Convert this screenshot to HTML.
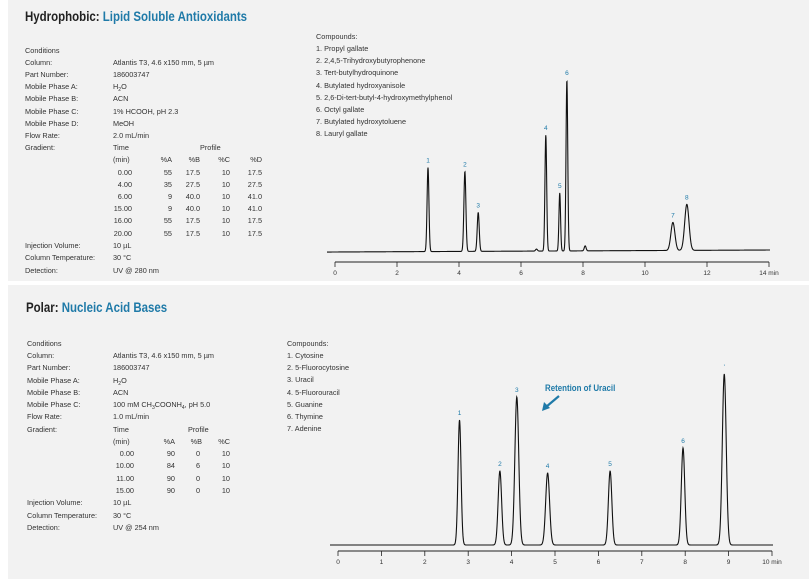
<!DOCTYPE html>
<html><head><meta charset="utf-8"><style>
html,body{margin:0;padding:0;background:#fff;}
svg{display:block;}
text{font-family:"Liberation Sans",sans-serif;}
</style></head><body>
<svg id="s" width="809" height="579" viewBox="0 0 809 579" xmlns="http://www.w3.org/2000/svg">
<rect x="0" y="0" width="809" height="579" fill="#fff"/>
<rect x="8" y="0" width="801" height="281" fill="#f2f2f2"/>
<rect x="8" y="285" width="801" height="294" fill="#f2f2f2"/>

<text x="25" y="21" font-size="14" font-weight="bold" transform="translate(25 0) scale(0.82 1) translate(-25 0)"><tspan fill="#222">Hydrophobic: </tspan><tspan fill="#1f7aa8">Lipid Soluble Antioxidants</tspan></text>

<g font-size="7.3" fill="#333">
<text x="25" y="53">Conditions</text>
<text x="25" y="65">Column:</text><text x="113" y="65">Atlantis T3, 4.6 x150 mm, 5 µm</text>
<text x="25" y="77">Part Number:</text><text x="113" y="77">186003747</text>
<text x="25" y="89">Mobile Phase A:</text><text x="113" y="89">H<tspan font-size="5" dy="2">2</tspan><tspan dy="-2">O</tspan></text>
<text x="25" y="101">Mobile Phase B:</text><text x="113" y="101">ACN</text>
<text x="25" y="114">Mobile Phase C:</text><text x="113" y="114">1% HCOOH, pH 2.3</text>
<text x="25" y="126">Mobile Phase D:</text><text x="113" y="126">MeOH</text>
<text x="25" y="138">Flow Rate:</text><text x="113" y="138">2.0 mL/min</text>
<text x="25" y="150">Gradient:</text><text x="113" y="150">Time</text><text x="200" y="150">Profile</text>
<text x="113" y="162">(min)</text>
<g text-anchor="end">
<text x="172" y="162">%A</text><text x="200" y="162">%B</text><text x="230" y="162">%C</text><text x="262" y="162">%D</text>
<text x="132" y="175">0.00</text><text x="172" y="175">55</text><text x="200" y="175">17.5</text><text x="230" y="175">10</text><text x="262" y="175">17.5</text>
<text x="132" y="187">4.00</text><text x="172" y="187">35</text><text x="200" y="187">27.5</text><text x="230" y="187">10</text><text x="262" y="187">27.5</text>
<text x="132" y="199">6.00</text><text x="172" y="199">9</text><text x="200" y="199">40.0</text><text x="230" y="199">10</text><text x="262" y="199">41.0</text>
<text x="132" y="211">15.00</text><text x="172" y="211">9</text><text x="200" y="211">40.0</text><text x="230" y="211">10</text><text x="262" y="211">41.0</text>
<text x="132" y="223">16.00</text><text x="172" y="223">55</text><text x="200" y="223">17.5</text><text x="230" y="223">10</text><text x="262" y="223">17.5</text>
<text x="132" y="236">20.00</text><text x="172" y="236">55</text><text x="200" y="236">17.5</text><text x="230" y="236">10</text><text x="262" y="236">17.5</text>
</g>
<text x="25" y="248">Injection Volume:</text><text x="113" y="248">10 µL</text>
<text x="25" y="260">Column Temperature:</text><text x="113" y="260">30 °C</text>
<text x="25" y="273">Detection:</text><text x="113" y="273">UV @ 280 nm</text>

<text x="316" y="39">Compounds:</text>
<text x="316" y="51">1. Propyl gallate</text>
<text x="316" y="63">2. 2,4,5-Trihydroxybutyrophenone</text>
<text x="316" y="75">3. Tert-butylhydroquinone</text>
<text x="316" y="88">4. Butylated hydroxyanisole</text>
<text x="316" y="100">5. 2,6-Di-tert-butyl-4-hydroxymethylphenol</text>
<text x="316" y="112">6. Octyl gallate</text>
<text x="316" y="124">7. Butylated hydroxytoluene</text>
<text x="316" y="136">8. Lauryl gallate</text>
</g>

<text x="26" y="312" font-size="14" font-weight="bold" transform="translate(26 0) scale(0.82 1) translate(-26 0)"><tspan fill="#222">Polar: </tspan><tspan fill="#1f7aa8">Nucleic Acid Bases</tspan></text>

<g font-size="7.3" fill="#333">
<text x="27" y="346">Conditions</text>
<text x="27" y="358">Column:</text><text x="113" y="358">Atlantis T3, 4.6 x150 mm, 5 µm</text>
<text x="27" y="370">Part Number:</text><text x="113" y="370">186003747</text>
<text x="27" y="383">Mobile Phase A:</text><text x="113" y="383">H<tspan font-size="5" dy="2">2</tspan><tspan dy="-2">O</tspan></text>
<text x="27" y="395">Mobile Phase B:</text><text x="113" y="395">ACN</text>
<text x="27" y="407">Mobile Phase C:</text><text x="113" y="407">100 mM CH<tspan font-size="5" dy="2">3</tspan><tspan dy="-2">COONH</tspan><tspan font-size="5" dy="2">4</tspan><tspan dy="-2">, pH 5.0</tspan></text>
<text x="27" y="419">Flow Rate:</text><text x="113" y="419">1.0 mL/min</text>
<text x="27" y="432">Gradient:</text><text x="113" y="432">Time</text><text x="188" y="432">Profile</text>
<text x="113" y="444">(min)</text>
<g text-anchor="end">
<text x="175" y="444">%A</text><text x="202" y="444">%B</text><text x="230" y="444">%C</text>
<text x="134" y="456">0.00</text><text x="175" y="456">90</text><text x="200" y="456">0</text><text x="230" y="456">10</text>
<text x="134" y="468">10.00</text><text x="175" y="468">84</text><text x="200" y="468">6</text><text x="230" y="468">10</text>
<text x="134" y="481">11.00</text><text x="175" y="481">90</text><text x="200" y="481">0</text><text x="230" y="481">10</text>
<text x="134" y="493">15.00</text><text x="175" y="493">90</text><text x="200" y="493">0</text><text x="230" y="493">10</text>
</g>
<text x="27" y="505">Injection Volume:</text><text x="113" y="505">10 µL</text>
<text x="27" y="518">Column Temperature:</text><text x="113" y="518">30 °C</text>
<text x="27" y="530">Detection:</text><text x="113" y="530">UV @ 254 nm</text>

<text x="287" y="346">Compounds:</text>
<text x="287" y="358">1. Cytosine</text>
<text x="287" y="370">2. 5-Fluorocytosine</text>
<text x="287" y="382">3. Uracil</text>
<text x="287" y="395">4. 5-Fluorouracil</text>
<text x="287" y="407">5. Guanine</text>
<text x="287" y="419">6. Thymine</text>
<text x="287" y="431">7. Adenine</text>
</g>

<text x="545" y="391" font-size="9" font-weight="bold" fill="#1f7aa8" transform="translate(545 0) scale(0.88 1) translate(-545 0)">Retention of Uracil</text>
<line x1="559" y1="396" x2="546" y2="407" stroke="#1f7aa8" stroke-width="2.2"/>
<polygon points="542,411 544,402 550,408" fill="#1f7aa8"/>

<g id="top"></g>
<g id="bot"></g>
</svg>
<script>
var NS="http://www.w3.org/2000/svg";
function el(p,t,a,txt){var e=document.createElementNS(NS,t);for(var k in a)e.setAttribute(k,a[k]);if(txt!=null)e.textContent=txt;p.appendChild(e);return e;}
function chart(g,x0,x1,tmax,axisY,base0,base1,peaks,ticks,lastLabel,labels){
  var sc=(x1-x0)/tmax;
  el(g,"line",{x1:x0,y1:axisY,x2:x1,y2:axisY,stroke:"#222","stroke-width":1});
  for(var i=0;i<=tmax;i+=ticks){var x=x0+i*sc;
    el(g,"line",{x1:x,y1:axisY,x2:x,y2:axisY+5,stroke:"#222","stroke-width":0.8});
    el(g,"text",{x:x,y:axisY+13,"font-size":6.5,fill:"#333","text-anchor":"middle"},i==tmax?lastLabel:String(i));
  }
  var d="";
  for(var px=x0-8;px<=x1+1;px+=0.25){var t=(px-x0)/sc;
    var y=base0+(base1-base0)*(t/tmax);
    for(var j=0;j<peaks.length;j++){var p=peaks[j];var z=(t-p[0])/p[2];y-=p[1]*Math.exp(-0.5*z*z);}
    d+=(d?"L":"M")+px.toFixed(2)+" "+y.toFixed(2);
  }
  el(g,"path",{d:d,fill:"none",stroke:"#111","stroke-width":1.1});
  for(var j=0;j<labels.length;j++){var p=peaks[labels[j][0]];
    var top=base0+(base1-base0)*(p[0]/tmax)-p[1];
    el(g,"text",{x:x0+p[0]*sc,y:top-5,"font-size":6.5,fill:"#1f7aa8","text-anchor":"middle"},labels[j][1]);}
}
var b=252;
chart(document.getElementById("top"),335,769,14,262,252,250,
 [[3.0,b-168,0.03],[4.19,b-172,0.032],[4.62,b-213,0.032],[6.8,b-136,0.028],[7.25,b-194,0.026],[7.48,b-81,0.028],[8.07,5,0.03],[6.5,2,0.03],[10.9,b-224,0.065],[11.35,b-206,0.07]],
 2,"14 min",[[0,"1"],[1,"2"],[2,"3"],[3,"4"],[4,"5"],[5,"6"],[8,"7"],[9,"8"]]);
var c=545;
chart(document.getElementById("bot"),338,772,10,551,545,545,
 [[2.8,c-420,0.035],[3.73,c-471,0.04],[4.12,c-397,0.045],[4.83,c-473,0.045],[6.27,c-471,0.04],[7.95,c-448,0.04],[8.9,c-374,0.045]],
 1,"10 min",[[0,"1"],[1,"2"],[2,"3"],[3,"4"],[4,"5"],[5,"6"],[6,"'"]]);
</script>
</body></html>
